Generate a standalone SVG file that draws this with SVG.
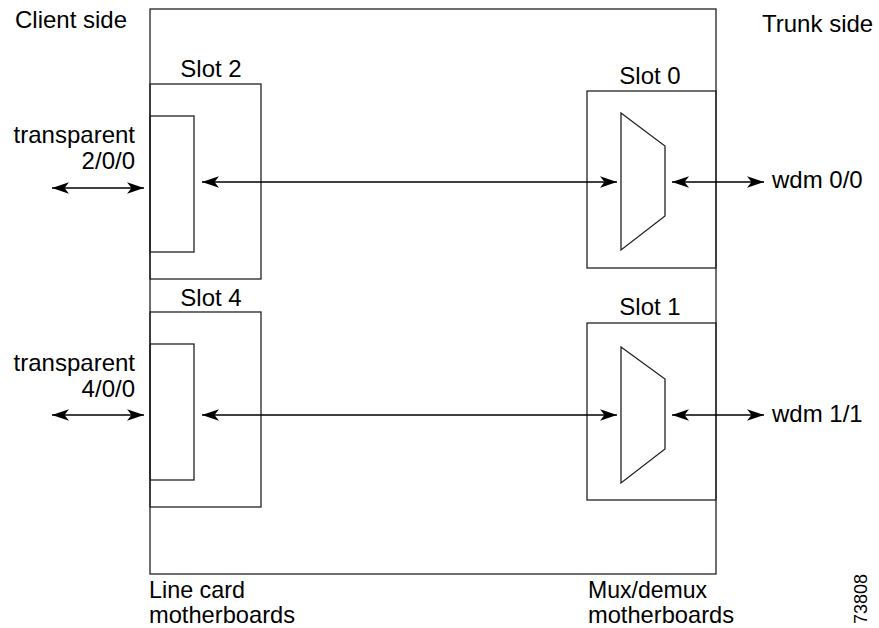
<svg xmlns="http://www.w3.org/2000/svg" width="879" height="628" viewBox="0 0 879 628">
<style>
.box{fill:none;stroke:#222;stroke-width:1.3}
.ln{fill:none;stroke:#000;stroke-width:1.3;marker-start:url(#ah);marker-end:url(#ah)}
.t{font-family:"Liberation Sans",Arial,Helvetica,sans-serif;font-size:24px;fill:#000}
.c{text-anchor:middle}
.e{text-anchor:end}
</style>
<defs>
<marker id="ah" markerUnits="userSpaceOnUse" markerWidth="18" markerHeight="12" viewBox="0 0 18 12" refX="17" refY="6" orient="auto-start-reverse">
<path d="M17,6 L0,0.3 L4.5,6 L0,11.7 Z" fill="#000"/>
</marker>
</defs>
<rect width="879" height="628" fill="#fff"/>
<g id="chassis">
<rect class="box" x="150" y="9" width="566" height="565"/>
</g>
<g id="slot2">
<rect class="box" x="150" y="84" width="111" height="195"/>
<rect class="box" x="150" y="116" width="44" height="136"/>
<text class="t c" x="211" y="77">Slot 2</text>
</g>
<g id="slot4">
<rect class="box" x="150" y="312" width="111" height="195"/>
<rect class="box" x="150" y="344" width="44" height="136"/>
<text class="t c" x="211" y="306">Slot 4</text>
</g>
<g id="slot0">
<rect class="box" x="587" y="91" width="129" height="177"/>
<polygon class="box" points="621,113 665,146 665,216 621,250"/>
<text class="t c" x="650" y="84">Slot 0</text>
</g>
<g id="slot1">
<rect class="box" x="587" y="323" width="129" height="177"/>
<polygon class="box" points="621,347 665,379 665,449 621,483"/>
<text class="t c" x="650" y="315">Slot 1</text>
</g>
<g id="connectors">
<line class="ln" x1="52" y1="188" x2="144" y2="188"/>
<line class="ln" x1="202" y1="182" x2="617" y2="182"/>
<line class="ln" x1="672" y1="182" x2="764" y2="182"/>
<line class="ln" x1="52" y1="415" x2="144" y2="415"/>
<line class="ln" x1="202" y1="415" x2="617" y2="415"/>
<line class="ln" x1="672" y1="415" x2="764" y2="415"/>
</g>
<g id="labels">
<text class="t" x="15" y="28">Client side</text>
<text class="t" x="762" y="32">Trunk side</text>
<text class="t e" x="135" y="143">transparent</text>
<text class="t e" x="135" y="169">2/0/0</text>
<text class="t e" x="135" y="371">transparent</text>
<text class="t e" x="135" y="397">4/0/0</text>
<text class="t" x="772" y="188">wdm 0/0</text>
<text class="t" x="772" y="422">wdm 1/1</text>
<text class="t" font-size="22" x="149" y="598" textLength="96" lengthAdjust="spacingAndGlyphs">Line card</text>
<text class="t" font-size="22" x="149" y="623" textLength="146" lengthAdjust="spacingAndGlyphs">motherboards</text>
<text class="t" font-size="22" x="588" y="598" textLength="119" lengthAdjust="spacingAndGlyphs">Mux/demux</text>
<text class="t" font-size="22" x="588" y="623" textLength="146" lengthAdjust="spacingAndGlyphs">motherboards</text>
<text font-family="Liberation Sans,Arial,sans-serif" font-size="18" transform="translate(867,624) rotate(-90)">73808</text>
</g>
</svg>
